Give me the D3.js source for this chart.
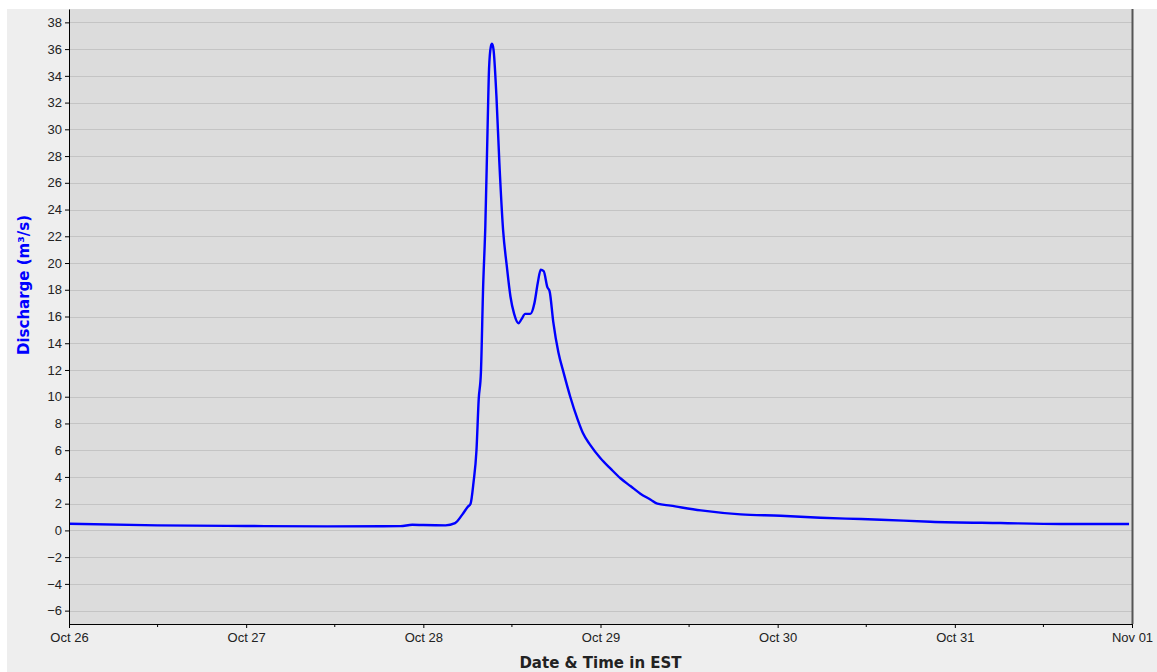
<!DOCTYPE html>
<html>
<head>
<meta charset="utf-8">
<script src="https://cdn.jsdelivr.net/npm/d3@7"></script>
<style>
  body { margin: 0; background: #fff; }
  svg { display: block; font-family: "DejaVu Sans", sans-serif; }
</style>
</head>
<body>
<div id="chart"></div>
<script>
// hours after Oct 26 00:00 EST, and discharge in m3/s
const hours = [0, 12, 24, 35, 44.9, 46.5, 48, 51, 52.3, 53.3, 54, 54.4, 54.8, 55.2, 55.5, 55.8,
  56.1, 56.4, 56.7, 56.9, 57.15, 57.3, 57.5, 57.9, 58.3, 58.8, 59.3, 59.8, 60.3, 60.9, 61.3,
  61.8, 62.5, 63.05, 63.5, 63.9, 64.3, 64.8, 65.1, 65.6, 66.3, 67, 67.9, 68.9, 69.6, 70.6,
  72, 73.4, 74.7, 76.1, 77.4, 78.8, 79.7, 81.5, 85.6, 91, 96.4, 101.8, 107.3, 110, 116.7,
  126.2, 134.4, 143.6];
const discharge = [0.5, 0.38, 0.33, 0.3, 0.32, 0.42, 0.4, 0.38, 0.55, 1.2, 1.75, 2.0, 3.6, 6.0, 9.8, 11.8,
  18.2, 22.8, 30, 34.5, 36.2, 36.4, 36.0, 32.5, 27.5, 22.5, 19.8, 17.5, 16.2, 15.5, 15.8,
  16.2, 16.2, 17.0, 18.5, 19.5, 19.4, 18.2, 17.9, 15.6, 13.3, 11.8, 10, 8.3, 7.3, 6.4,
  5.4, 4.6, 3.9, 3.3, 2.75, 2.3, 2.0, 1.85, 1.5, 1.2, 1.1, 0.95, 0.85, 0.8, 0.65,
  0.55, 0.48, 0.48];
const yTicks = d3.range(-6, 39, 2);
const xStart = new Date(2019, 9, 26);
const xEnd = new Date(2019, 10, 1);

const W = 1157, H = 672;
const margin = {top: 9, right: 25, bottom: 48, left: 69};
const width = W - margin.left - margin.right;
const height = H - margin.top - margin.bottom;

const data = hours.map((h, i) => ({t: xStart.getTime() + h * 3600e3, v: discharge[i]}));

const svg = d3.select("#chart").append("svg")
  .attr("width", W).attr("height", H);

// panel background
svg.append("rect").attr("x", 7).attr("y", 9).attr("width", W - 7).attr("height", H - 9)
  .attr("fill", "#eeeeee");

const g = svg.append("g").attr("transform", `translate(${margin.left},${margin.top})`);

const x = d3.scaleTime().domain([xStart, xEnd]).range([0, width]);
const y = d3.scaleLinear().domain([-7, 39]).range([height, 0]);

g.append("rect").attr("width", width).attr("height", height).attr("fill", "#dcdcdc");

// grid lines
g.selectAll(".grid").data(yTicks).enter().append("line")
  .attr("x1", 0).attr("x2", width)
  .attr("y1", d => Math.round(y(d)) + 0.5).attr("y2", d => Math.round(y(d)) + 0.5)
  .attr("stroke", "#c4c4c4").attr("stroke-width", 1);

// the series
const line = d3.line().x(d => x(d.t)).y(d => y(d.v)).curve(d3.curveMonotoneX);
g.append("path").datum(data)
  .attr("d", line)
  .attr("fill", "none")
  .attr("stroke", "#0000ff")
  .attr("stroke-width", 2.4)
  .attr("stroke-linejoin", "round");

// Y axis
const yAxis = g.append("g")
  .call(d3.axisLeft(y).tickValues(yTicks).tickSize(4).tickSizeOuter(0).tickFormat(d => d < 0 ? "\u2212" + Math.abs(d) : d));
yAxis.select(".domain").attr("stroke", "#000");
yAxis.selectAll("text").style("font-size", "13px").attr("fill", "#222");

// X axis: day labels and 12h minor ticks
const days = d3.timeDay.range(xStart, d3.timeDay.offset(xEnd, 1));
const xAxis = g.append("g").attr("transform", `translate(0,${height})`)
  .call(d3.axisBottom(x).tickValues(days).tickSize(4).tickSizeOuter(0)
    .tickFormat(d => d.getMonth() === 9 ? d3.timeFormat("%b %-d")(d) : d3.timeFormat("%b %d")(d)));
xAxis.select(".domain").attr("stroke", "#000");
xAxis.selectAll("text").style("font-size", "13px").attr("fill", "#222").attr("dy", "0.85em");

const halfDays = days.slice(0, -1).map(d => d3.timeHour.offset(d, 12));
g.selectAll(".minor").data(halfDays).enter().append("line")
  .attr("x1", d => x(d)).attr("x2", d => x(d))
  .attr("y1", height).attr("y2", height + 3)
  .attr("stroke", "#000");

// right border
g.append("line").attr("x1", width + 0.5).attr("x2", width + 0.5).attr("y1", 0).attr("y2", height)
  .attr("stroke", "#555").attr("stroke-width", 2);

// axis titles
svg.append("text")
  .attr("x", margin.left + width / 2).attr("y", 668)
  .attr("text-anchor", "middle")
  .style("font-size", "15px").style("font-weight", "bold").attr("fill", "#222")
  .text("Date & Time in EST");

svg.append("text")
  .attr("transform", "translate(29,285) rotate(-90)")
  .attr("text-anchor", "middle")
  .style("font-size", "15px").style("font-weight", "bold").attr("fill", "#0000ff")
  .text("Discharge (m³/s)");
</script>
</body>
</html>
